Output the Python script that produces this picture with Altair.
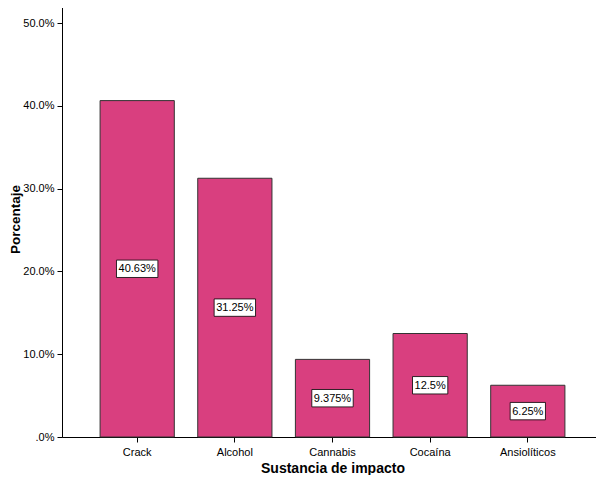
import altair as alt
import pandas as pd

categories = ["Crack", "Alcohol", "Cannabis", "Cocaína", "Ansiolíticos"]
values = [40.63, 31.25, 9.375, 12.5, 6.25]
labels = ["40.63%", "31.25%", "9.375%", "12.5%", "6.25%"]

df = pd.DataFrame({"sustancia": categories, "pct": values, "label": labels})

FONT = "Liberation Sans"
BAR = "#D93F7F"

x_enc = alt.X(
    "sustancia:N",
    sort=categories,
    scale=alt.Scale(paddingInner=0.24, paddingOuter=0.39),
    axis=alt.Axis(
        title="Sustancia de impacto",
        labelAngle=0,
        labelFont=FONT,
        labelFontSize=11,
        labelColor="#000",
        labelPadding=4,
        tickSize=5,
        tickColor="#000",
        domainColor="#000",
        titleFont=FONT,
        titleFontSize=14,
        titleFontWeight="bold",
        titleColor="#000",
        titlePadding=4,
    ),
)

y_scale = alt.Scale(domain=[0, 52.66], nice=False, zero=True)

bars = alt.Chart(df).mark_bar(fill=BAR, stroke="#333333", strokeWidth=1).encode(
    x=x_enc,
    y=alt.Y(
        "pct:Q",
        scale=y_scale,
        axis=alt.Axis(
            title="Porcentaje",
            values=[0, 10, 20, 30, 40, 50],
            labelExpr="datum.value == 0 ? '.0%' : format(datum.value, '.1f') + '%'",
            labelFont=FONT,
            labelFontSize=11,
            labelColor="#000",
            labelPadding=3,
            tickSize=5,
            tickColor="#000",
            domainColor="#000",
            grid=False,
            titleFont=FONT,
            titleFontSize=13.5,
            titleFontWeight="bold",
            titleColor="#000",
            titlePadding=0,
        ),
    ),
)

boxes = (
    alt.Chart(df)
    .transform_calculate(
        lo="datum.pct / 2 - 1.05",
        hi="datum.pct / 2 + 1.05",
        bw="(length(datum.label) - 2) * 6.1 + 17",
    )
    .mark_bar(fill="white", stroke="#000", strokeWidth=0.8)
    .encode(
        x=alt.X("sustancia:N", sort=categories),
        y=alt.Y("lo:Q", scale=y_scale),
        y2="hi:Q",
        size=alt.Size("bw:Q", scale=None, legend=None),
    )
)

texts = (
    alt.Chart(df)
    .transform_calculate(mid="datum.pct / 2")
    .mark_text(font=FONT, fontSize=11, color="#000", baseline="middle", dy=0.5)
    .encode(
        x=alt.X("sustancia:N", sort=categories),
        y=alt.Y("mid:Q", scale=y_scale),
        text="label:N",
    )
)

chart = (
    alt.layer(bars, boxes, texts)
    .properties(
        width=541,
        height=436,
        autosize=alt.AutoSizeParams(type="none"),
        padding={"left": 54, "top": -7, "right": -7, "bottom": 38},
        background="white",
    )
    .configure_view(stroke="#808080", strokeWidth=1)
)

chart.save("out.html", embed_options={"renderer": "svg", "actions": False})
